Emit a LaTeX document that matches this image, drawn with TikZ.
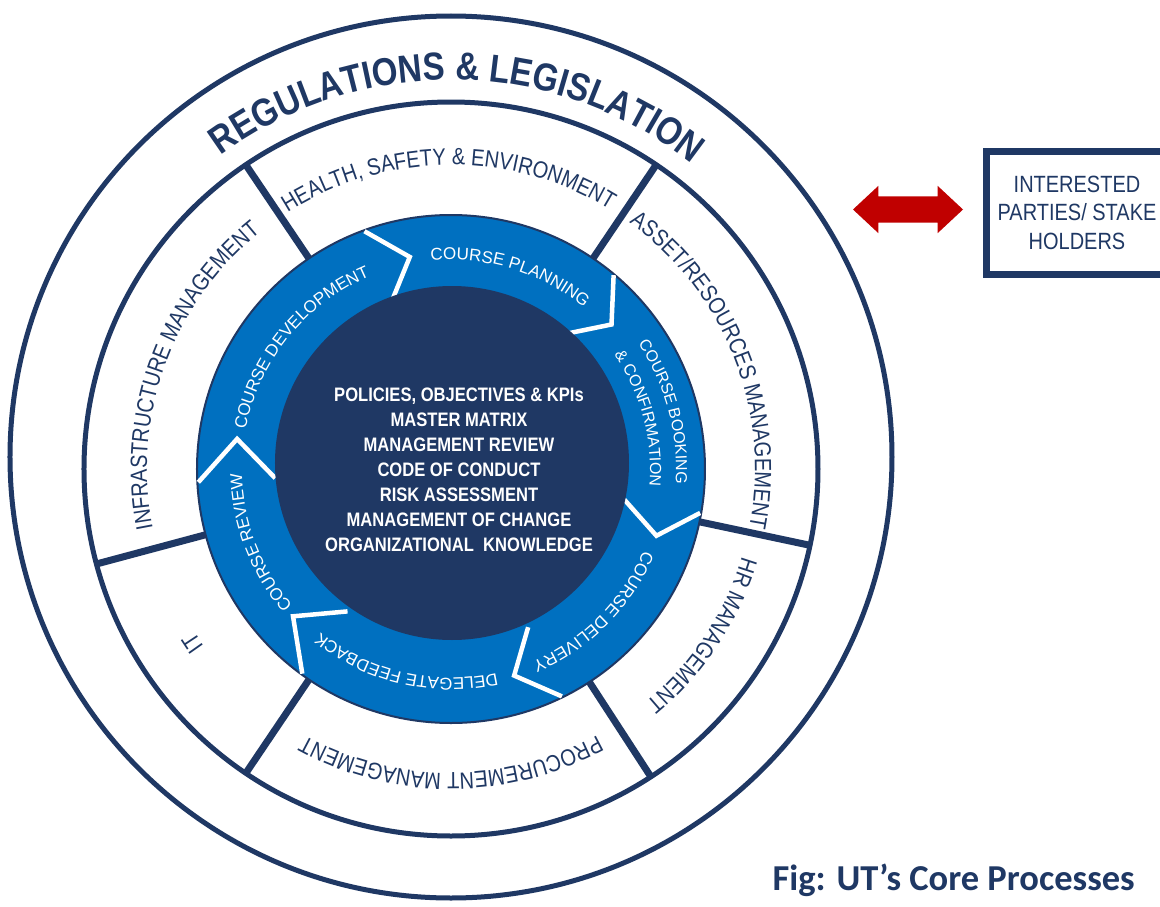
\documentclass[tikz,border=0pt]{standalone}
\usepackage{fontspec}
\setmainfont{Liberation Sans}
\newfontfamily\narrowfont[FakeStretch=0.85]{Liberation Sans}
\newfontfamily\capfont{Carlito}
\usetikzlibrary{decorations.text,shapes.arrows}

\definecolor{navy}{HTML}{1F3864}
\definecolor{ringblue}{HTML}{0070C0}
\definecolor{arrowred}{HTML}{C00000}

\newcommand\outerfont{\narrowfont\bfseries\fontsize{39}{39}\selectfont}
\newcommand\midfont{\narrowfont\fontsize{23.5}{24}\selectfont}
\newcommand\bluefont{\fontsize{17}{17}\selectfont}
\newcommand\bookfont{\fontsize{16}{16}\selectfont}

\begin{document}
\begin{tikzpicture}[x=1pt,y=1pt,
  ringline/.style={draw=navy,line width=5pt},
  spoke/.style={draw=navy,line width=7pt},
  chevron/.style={draw=white,line width=4.5pt},
  ringlabel/.style={decorate,decoration={text along path,text align=center,text color=navy}},
  bluelabel/.style={decorate,decoration={text along path,text align=center,text color=white}}]

    \path[use as bounding box,fill=white] (-451,-437) rectangle (709,469);

    % rings
    \draw[ringline] (0,12) circle[radius=441pt];
    \draw[ringline] (0,0) circle[radius=367pt];

    \draw[spoke] (124:254pt) -- (124:367pt);
    \draw[spoke] (56:254pt) -- (56:367pt);
    \draw[spoke] (-12:254pt) -- (-12:367pt);
    \draw[spoke] (-57:254pt) -- (-57:367pt);
    \draw[spoke] (236:254pt) -- (236:367pt);
    \draw[spoke] (195:254pt) -- (195:367pt);

    % process cycle
    \draw[navy,line width=2pt,fill=ringblue] (0,0) circle[radius=254pt];
    \draw[chevron] (110:253pt) -- (101:216pt) -- (110:176pt);
    \draw[chevron] (50:253pt) -- (42:216pt) -- (50:176pt);
    \draw[chevron] (-10:253pt) -- (-18:216pt) -- (-10:176pt);
    \draw[chevron] (-64:253pt) -- (-73:216pt) -- (-64:176pt);
    \draw[chevron] (234:253pt) -- (223:216pt) -- (234:176pt);
    \draw[chevron] (183:253pt) -- (172:216pt) -- (183:176pt);
    \fill[navy] (1,6) circle[radius=177pt];

    \node[align=center,text=white,font=\narrowfont\bfseries\fontsize{19.5}{25}\selectfont] (core) at (8,-1)
      {POLICIES, OBJECTIVES \& KPIs\\MASTER MATRIX\\MANAGEMENT REVIEW\\CODE OF CONDUCT\\RISK ASSESSMENT\\MANAGEMENT OF CHANGE\\ORGANIZATIONAL\ \ KNOWLEDGE};

    % labels
    \path[ringlabel,decoration={text={|\outerfont|REGULATIONS {\&} LEGISLATION}}] (149:389pt) arc[start angle=149,end angle=29,radius=389pt];

    \path[ringlabel,decoration={text={|\midfont|HEALTH, SAFETY {\&} ENVIRONMENT}}] (150.5:304pt) arc[start angle=150.5,end angle=30.5,radius=304pt];
    \path[ringlabel,decoration={text={|\midfont|ASSET/RESOURCES MANAGEMENT}}] (81.5:304pt) arc[start angle=81.5,end angle=-38.5,radius=304pt];
    \path[ringlabel,decoration={text={|\midfont|HR MANAGEMENT}}] (26.5:304pt) arc[start angle=26.5,end angle=-93.5,radius=304pt];
    \path[ringlabel,decoration={text={|\midfont|PROCUREMENT MANAGEMENT}}] (-30:304pt) arc[start angle=-30,end angle=-150,radius=304pt];
    \path[ringlabel,decoration={text={|\midfont|IT}}] (274:304pt) arc[start angle=274,end angle=154,radius=304pt];
    \path[ringlabel,decoration={text={|\midfont|INFRASTRUCTURE MANAGEMENT}}] (220:304pt) arc[start angle=220,end angle=100,radius=304pt];

    \path[bluelabel,decoration={text={|\bluefont|COURSE PLANNING}}] (118:209pt) arc[start angle=118,end angle=28,radius=209pt];
    \path[bluelabel,decoration={text={|\bookfont|COURSE BOOKING}}] (60:225pt) arc[start angle=60,end angle=-30,radius=225pt];
    \path[bluelabel,decoration={text={|\bookfont|{\&} CONFIRMATION}}] (60:199pt) arc[start angle=60,end angle=-30,radius=199pt];
    \path[bluelabel,decoration={text={|\bluefont|COURSE DELIVERY}}] (0:209pt) arc[start angle=0,end angle=-90,radius=209pt];
    \path[bluelabel,decoration={text={|\bluefont|DELEGATE FEEDBACK}}] (-58:209pt) arc[start angle=-58,end angle=-148,radius=209pt];
    \path[bluelabel,decoration={text={|\bluefont|COURSE REVIEW}}] (246:209pt) arc[start angle=246,end angle=156,radius=209pt];
    \path[bluelabel,decoration={text={|\bluefont|COURSE DEVELOPMENT}}] (196:209pt) arc[start angle=196,end angle=86,radius=209pt];

    % stakeholders
    \node[draw=navy,line width=7pt,minimum width=182pt,minimum height=123pt,inner sep=0pt,align=center,text=navy,
      font=\narrowfont\fontsize{23.5}{28.5}\selectfont] (stake) at (626,256.5) {INTERESTED\\PARTIES/ STAKE\\HOLDERS};
    \node[double arrow,fill=arrowred,minimum height=110pt,minimum width=47pt,double arrow head extend=10.5pt,
      double arrow tip angle=86,inner sep=0pt,text height=26pt,text depth=0pt] (link) at (457,259.5) {};

    \node[anchor=base west,text=navy,font=\capfont\bfseries\fontsize{36.5}{36.5}\selectfont] (caption) at (318,-421) {Fig: UT’s Core Processes};
\end{tikzpicture}
\end{document}
